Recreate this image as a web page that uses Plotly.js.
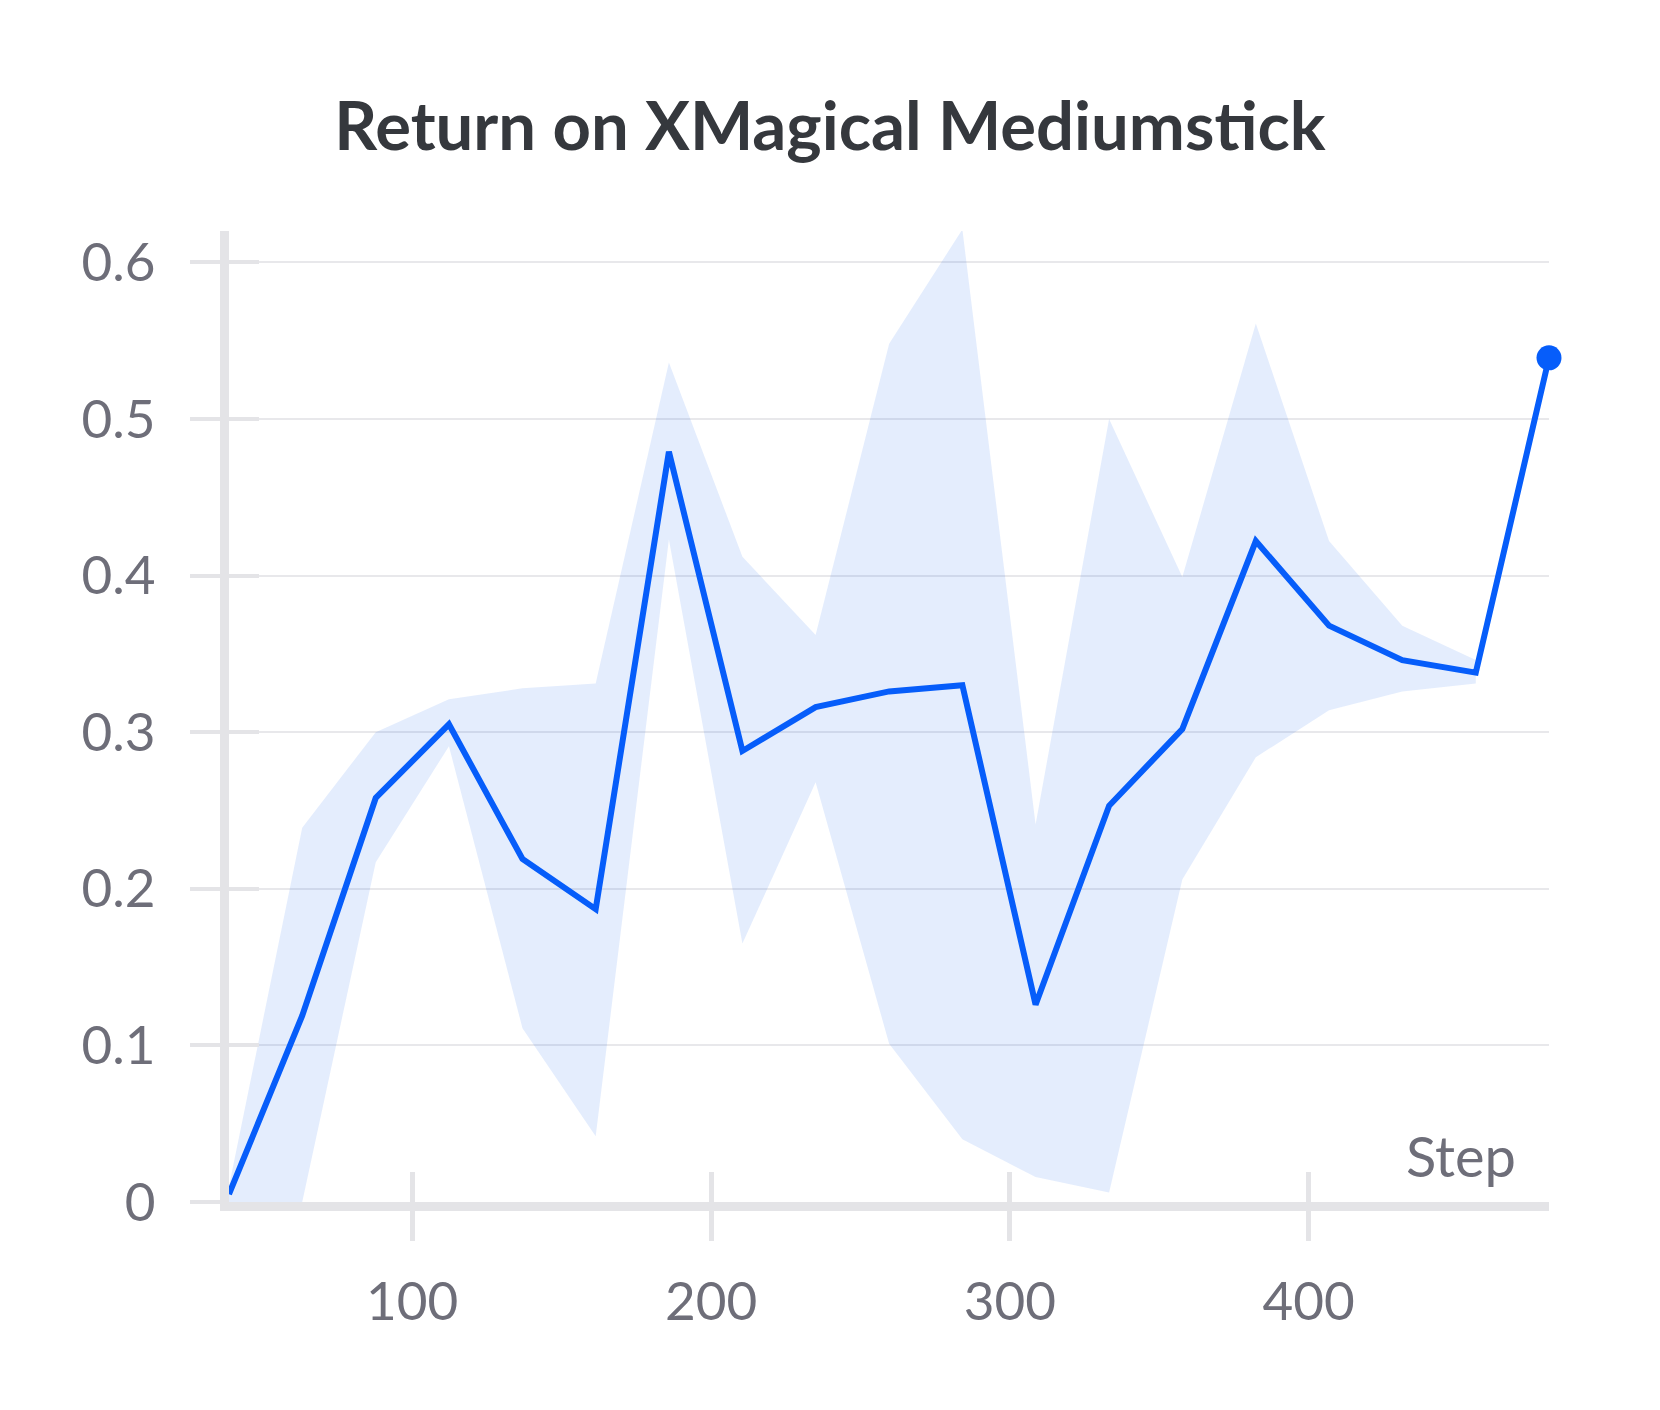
<!DOCTYPE html>
<html>
<head>
<meta charset="utf-8">
<script src="https://cdn.plot.ly/plotly-3.0.1.min.js"></script>
<style>
  html, body { margin: 0; padding: 0; background: #ffffff; }
  #chart { width: 1660px; height: 1410px; }
</style>
</head>
<body>
<div id="chart"></div>
<script>
// steps
const steps = [38.7, 63.2, 87.8, 112.3, 136.9, 161.4, 185.9, 210.5, 235.0, 259.6,
               284.1, 308.6, 333.2, 357.7, 382.3, 406.8, 431.3, 455.9, 480.4];
// mean return per step
const meanReturn = [0.005, 0.119, 0.258, 0.305, 0.219, 0.187, 0.479, 0.288, 0.316, 0.326,
                    0.330, 0.126, 0.253, 0.302, 0.422, 0.368, 0.346, 0.338, 0.539];
// shaded band (ends one step before the last point)
const bandUpper = [0.010, 0.239, 0.300, 0.321, 0.328, 0.331, 0.536, 0.412, 0.362, 0.548,
                   0.621, 0.241, 0.500, 0.399, 0.561, 0.422, 0.368, 0.346];
const bandLower = [0.000, 0.000, 0.217, 0.291, 0.111, 0.042, 0.423, 0.165, 0.268, 0.101,
                   0.040, 0.016, 0.006, 0.206, 0.284, 0.314, 0.326, 0.331];
const xTicks = [100, 200, 300, 400];
const yTicks = [0, 0.1, 0.2, 0.3, 0.4, 0.5, 0.6];
const yTickText = ['0', '0.1', '0.2', '0.3', '0.4', '0.5', '0.6'];

const FONT = 'Lato, "Open Sans", sans-serif';
const BLUE = '#065dfa';
const AXIS = '#e4e4e7';
const LABEL = '#6e6e79';
const xRange = [steps[0], steps[steps.length - 1]];
const yRange = [0, 0.62];

const bandSteps = steps.slice(0, bandUpper.length);
const last = steps.length - 1;

const traceLower = {
    x: bandSteps, y: bandLower, type: 'scatter', mode: 'lines',
    line: { width: 0, color: 'rgba(0,0,0,0)' }, hoverinfo: 'skip', showlegend: false
};
const traceUpper = {
    x: bandSteps, y: bandUpper, type: 'scatter', mode: 'lines',
    line: { width: 0, color: 'rgba(0,0,0,0)' }, fill: 'tonexty',
    fillcolor: 'rgba(30,110,240,0.12)', hoverinfo: 'skip', showlegend: false
};
const traceMean = {
    x: steps, y: meanReturn, type: 'scatter', mode: 'lines',
    line: { color: BLUE, width: 6 }, showlegend: false
};
const traceEnd = {
    x: [steps[last]], y: [meanReturn[last]], type: 'scatter', mode: 'markers',
    marker: { color: BLUE, size: 25 }, cliponaxis: false, showlegend: false
};
// empty trace so the overlaid tick axes are drawn
const traceTicks = {
    x: [], y: [], type: 'scatter', mode: 'lines', xaxis: 'x2', yaxis: 'y2',
    showlegend: false, hoverinfo: 'skip'
};

const tickFont = { family: FONT, size: 53, color: LABEL };

const layout = {
    width: 1660,
    height: 1410,
    paper_bgcolor: '#ffffff',
    plot_bgcolor: '#ffffff',
    margin: { l: 229, r: 111, t: 231, b: 208 },
    showlegend: false,
    title: {
        text: 'Return on XMagical Mediumstick',
        font: { family: FONT, size: 67, color: '#35383d', weight: 700 },
        x: 0.5, xanchor: 'center', y: 0.91, yref: 'container', yanchor: 'middle'
    },
    xaxis: {
        range: xRange, showgrid: false, zeroline: false,
        showline: true, linewidth: 9, linecolor: AXIS,
        ticks: 'outside', ticklen: 30, tickwidth: 5, tickcolor: AXIS,
        tickvals: xTicks, ticktext: xTicks.map(String),
        tickfont: tickFont, ticklabelstandoff: 15
    },
    yaxis: {
        range: yRange, showgrid: true, gridcolor: '#e8e8eb', gridwidth: 2, zeroline: false,
        showline: true, linewidth: 9, linecolor: AXIS,
        ticks: 'outside', ticklen: 30, tickwidth: 4, tickcolor: AXIS,
        tickvals: yTicks, ticktext: yTickText,
        tickfont: tickFont, ticklabelstandoff: 24
    },
    xaxis2: {
        overlaying: 'x', range: xRange, showgrid: false, zeroline: false, showline: false,
        ticks: 'inside', ticklen: 30, tickwidth: 5, tickcolor: AXIS,
        tickvals: xTicks, showticklabels: false
    },
    yaxis2: {
        overlaying: 'y', range: yRange, showgrid: false, zeroline: false, showline: false,
        ticks: 'inside', ticklen: 30, tickwidth: 4, tickcolor: AXIS,
        tickvals: yTicks, showticklabels: false
    },
    annotations: [{
        text: 'Step', xref: 'paper', yref: 'paper', x: 1, y: 0,
        xanchor: 'right', yanchor: 'bottom', xshift: -31, yshift: 11,
        showarrow: false, font: { family: FONT, size: 56, color: LABEL }
    }]
};

Plotly.newPlot('chart', [traceTicks, traceLower, traceUpper, traceMean, traceEnd], layout,
    { displayModeBar: false, staticPlot: true });
</script>
</body>
</html>
